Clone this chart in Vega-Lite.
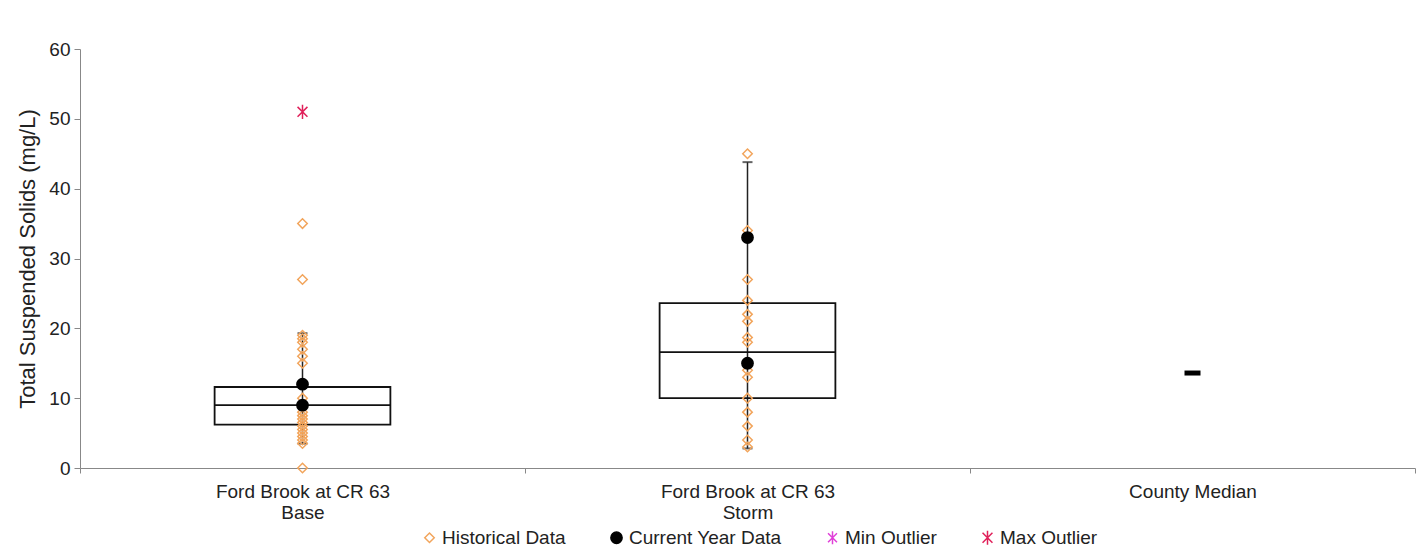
{
  "$schema": "https://vega.github.io/schema/vega-lite/v6.json",
  "width": 1335,
  "height": 419,
  "autosize": {"type": "none"},
  "padding": {"left": 80, "top": 49, "right": 9, "bottom": 80},
  "background": "white",
  "config": {
    "font": "Liberation Sans",
    "view": {"stroke": null},
    "axis": {"labelFont": "Liberation Sans", "titleFont": "Liberation Sans", "labelColor": "#222", "titleColor": "#222", "domainColor": "#888", "tickColor": "#888", "grid": false, "titleFontWeight": "normal"},
    "legend": {"labelFont": "Liberation Sans", "labelColor": "#222"}
  },
  "datasets": {
    "points": [
      {"site": "Ford Brook at CR 63|Base", "kind": "Historical Data", "tss": 0},
      {"site": "Ford Brook at CR 63|Base", "kind": "Historical Data", "tss": 3.5},
      {"site": "Ford Brook at CR 63|Base", "kind": "Historical Data", "tss": 4},
      {"site": "Ford Brook at CR 63|Base", "kind": "Historical Data", "tss": 4.5},
      {"site": "Ford Brook at CR 63|Base", "kind": "Historical Data", "tss": 5},
      {"site": "Ford Brook at CR 63|Base", "kind": "Historical Data", "tss": 5.5},
      {"site": "Ford Brook at CR 63|Base", "kind": "Historical Data", "tss": 6},
      {"site": "Ford Brook at CR 63|Base", "kind": "Historical Data", "tss": 6.5},
      {"site": "Ford Brook at CR 63|Base", "kind": "Historical Data", "tss": 7},
      {"site": "Ford Brook at CR 63|Base", "kind": "Historical Data", "tss": 7.5},
      {"site": "Ford Brook at CR 63|Base", "kind": "Historical Data", "tss": 8},
      {"site": "Ford Brook at CR 63|Base", "kind": "Historical Data", "tss": 10},
      {"site": "Ford Brook at CR 63|Base", "kind": "Historical Data", "tss": 15},
      {"site": "Ford Brook at CR 63|Base", "kind": "Historical Data", "tss": 16},
      {"site": "Ford Brook at CR 63|Base", "kind": "Historical Data", "tss": 17},
      {"site": "Ford Brook at CR 63|Base", "kind": "Historical Data", "tss": 18},
      {"site": "Ford Brook at CR 63|Base", "kind": "Historical Data", "tss": 18.5},
      {"site": "Ford Brook at CR 63|Base", "kind": "Historical Data", "tss": 19},
      {"site": "Ford Brook at CR 63|Base", "kind": "Historical Data", "tss": 27},
      {"site": "Ford Brook at CR 63|Base", "kind": "Historical Data", "tss": 35},
      {"site": "Ford Brook at CR 63|Base", "kind": "Max Outlier", "tss": 51},
      {"site": "Ford Brook at CR 63|Base", "kind": "Current Year Data", "tss": 12},
      {"site": "Ford Brook at CR 63|Base", "kind": "Current Year Data", "tss": 9},
      {"site": "Ford Brook at CR 63|Storm", "kind": "Historical Data", "tss": 3},
      {"site": "Ford Brook at CR 63|Storm", "kind": "Historical Data", "tss": 4},
      {"site": "Ford Brook at CR 63|Storm", "kind": "Historical Data", "tss": 6},
      {"site": "Ford Brook at CR 63|Storm", "kind": "Historical Data", "tss": 8},
      {"site": "Ford Brook at CR 63|Storm", "kind": "Historical Data", "tss": 10},
      {"site": "Ford Brook at CR 63|Storm", "kind": "Historical Data", "tss": 13},
      {"site": "Ford Brook at CR 63|Storm", "kind": "Historical Data", "tss": 14},
      {"site": "Ford Brook at CR 63|Storm", "kind": "Historical Data", "tss": 18},
      {"site": "Ford Brook at CR 63|Storm", "kind": "Historical Data", "tss": 18.7},
      {"site": "Ford Brook at CR 63|Storm", "kind": "Historical Data", "tss": 21},
      {"site": "Ford Brook at CR 63|Storm", "kind": "Historical Data", "tss": 22},
      {"site": "Ford Brook at CR 63|Storm", "kind": "Historical Data", "tss": 24},
      {"site": "Ford Brook at CR 63|Storm", "kind": "Historical Data", "tss": 27},
      {"site": "Ford Brook at CR 63|Storm", "kind": "Historical Data", "tss": 34},
      {"site": "Ford Brook at CR 63|Storm", "kind": "Historical Data", "tss": 45},
      {"site": "Ford Brook at CR 63|Storm", "kind": "Current Year Data", "tss": 33},
      {"site": "Ford Brook at CR 63|Storm", "kind": "Current Year Data", "tss": 15}
    ],
    "boxes": [
      {"site": "Ford Brook at CR 63|Base", "lo": 3.5, "q1": 6.2, "median": 9, "q3": 11.6, "hi": 19.3},
      {"site": "Ford Brook at CR 63|Storm", "lo": 2.8, "q1": 10, "median": 16.6, "q3": 23.6, "hi": 43.8}
    ],
    "county": [
      {"site": "County Median", "median": 13.6}
    ]
  },
  "encoding": {
    "x": {
      "field": "site",
      "type": "nominal",
      "sort": null,
      "scale": {"domain": ["Ford Brook at CR 63|Base", "Ford Brook at CR 63|Storm", "County Median"], "paddingInner": 0, "paddingOuter": 0},
      "axis": {"title": null, "labelAngle": 0, "labelFontSize": 19, "labelExpr": "split(datum.label, '|')", "labelLineHeight": 21, "tickBand": "extent", "tickSize": 5, "labelPadding": 9, "domainColor": "#888"}
    }
  },
  "layer": [
    {
      "data": {"name": "boxes"},
      "mark": {"type": "rule", "color": "#222", "strokeWidth": 1.5},
      "encoding": {
        "y": {"field": "lo", "type": "quantitative", "scale": {"domain": [0, 60]}, "axis": {"title": "Total Suspended Solids (mg/L)", "titleFontSize": 22, "labelFontSize": 19, "values": [0, 10, 20, 30, 40, 50, 60], "tickSize": 6, "labelPadding": 4, "titlePadding": 9}},
        "y2": {"field": "hi"}
      }
    },
    {
      "data": {"name": "boxes"},
      "mark": {"type": "tick", "color": "#222", "size": 10, "thickness": 2},
      "encoding": {"y": {"field": "hi", "type": "quantitative"}}
    },
    {
      "data": {"name": "boxes"},
      "mark": {"type": "tick", "color": "#222", "size": 10, "thickness": 2},
      "encoding": {"y": {"field": "lo", "type": "quantitative"}}
    },
    {
      "data": {"name": "boxes"},
      "mark": {"type": "bar", "width": {"band": 0.395}, "fill": "transparent", "stroke": "#111", "strokeWidth": 1.8},
      "encoding": {"y": {"field": "q1", "type": "quantitative"}, "y2": {"field": "q3"}}
    },
    {
      "data": {"name": "boxes"},
      "mark": {"type": "tick", "color": "#111", "size": 176, "thickness": 1.8, "opacity": 1},
      "encoding": {"y": {"field": "median", "type": "quantitative"}}
    },
    {
      "data": {"name": "county"},
      "mark": {"type": "tick", "color": "#000", "size": 16, "thickness": 5, "opacity": 1},
      "encoding": {"y": {"field": "median", "type": "quantitative"}}
    },
    {
      "data": {"name": "points"},
      "mark": {"type": "point", "opacity": 1, "strokeWidth": 1.5},
      "encoding": {
        "y": {"field": "tss", "type": "quantitative"},
        "shape": {"field": "kind", "type": "nominal", "title": null, "scale": {"domain": ["Historical Data", "Current Year Data", "Min Outlier", "Max Outlier"], "range": ["diamond", "circle", "M-0.7,-0.7L0.7,0.7M-0.7,0.7L0.7,-0.7M0,-1L0,1", "M-0.7,-0.7L0.7,0.7M-0.7,0.7L0.7,-0.7M0,-1L0,1"]}, "legend": {"orient": "none", "legendX": 340, "legendY": 479, "direction": "horizontal", "labelFontSize": 19, "columnPadding": 41, "labelOffset": 3, "padding": 0}},
        "stroke": {"field": "kind", "type": "nominal", "title": null, "scale": {"domain": ["Historical Data", "Current Year Data", "Min Outlier", "Max Outlier"], "range": ["#F2A55C", "#000000", "#E040D8", "#E0205A"]}},
        "fill": {"field": "kind", "type": "nominal", "title": null, "scale": {"domain": ["Historical Data", "Current Year Data", "Min Outlier", "Max Outlier"], "range": ["transparent", "#000000", "#E040D8", "#E0205A"]}},
        "size": {"field": "kind", "type": "nominal", "title": null, "scale": {"domain": ["Historical Data", "Current Year Data", "Min Outlier", "Max Outlier"], "range": [90, 200, 90, 90]}},
        "order": {"field": "kind", "type": "nominal", "sort": "descending"}
      }
    }
  ]
}
